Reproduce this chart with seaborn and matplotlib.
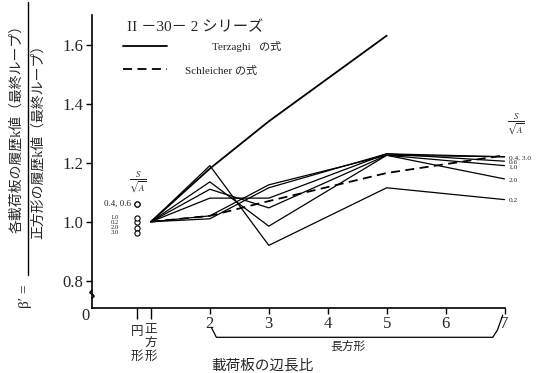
import numpy as np
import pandas as pd
import matplotlib
matplotlib.use("Agg")
import matplotlib.pyplot as plt
import seaborn as sns
from matplotlib.lines import Line2D
from matplotlib.transforms import blended_transform_factory

sns.set_theme(style="white")
plt.rcParams['font.family'] = ['Liberation Serif', 'Noto Sans CJK JP', 'DejaVu Sans']
plt.rcParams['mathtext.fontset'] = 'stix'

# Side ratio of the loading plate (1 = square, 2..7 = rectangles)
side_ratio = [1, 2, 3, 5, 7]
series_labels = ["0.2", "0.4", "0.6", "1.0", "2.0", "3.0"]
beta_02 = [1.00, 1.19, 0.92, 1.115, 1.075]
beta_04 = [1.00, 1.01, 1.115, 1.23, 1.22]
beta_06 = [1.00, 1.08, 1.08, 1.23, 1.205]
beta_10 = [1.00, 1.11, 1.047, 1.225, 1.19]
beta_20 = [1.00, 1.135, 0.985, 1.225, 1.145]
beta_30 = [1.00, 1.02, 1.125, 1.225, 1.22]

# Theoretical curves
terzaghi_ratio = [1, 2, 3, 5]
terzaghi_beta = [1.00, 1.18, 1.34, 1.63]
schleicher_ratio = [1, 2, 3, 5, 7]
schleicher_beta = [1.00, 1.02, 1.07, 1.165, 1.225]

# Circular plate results (same S/sqrt(A) order as series_labels)
circle_ratio = 0.76
circle_beta = [0.998, 1.061, 1.061, 1.013, 0.98, 0.963]

# Tick labels
y_ticks = [0.8, 1.0, 1.2, 1.4, 1.6]
x_ticks = [2, 3, 4, 5, 6, 7]

W, H = 542, 373
fig = plt.figure(figsize=(W / 100, H / 100), dpi=100)
ax = fig.add_axes([92 / W, 1 - 308 / H, (534 - 92) / W, (308 - 15) / H])
ax.set_xlim(0, 7.5)
ax.set_ylim(0.708, 1.70)

rect = pd.DataFrame({
    "ratio": side_ratio * 6,
    "beta": beta_02 + beta_04 + beta_06 + beta_10 + beta_20 + beta_30,
    "s": np.repeat(series_labels, len(side_ratio)),
})
sns.lineplot(data=rect, x="ratio", y="beta", units="s", estimator=None,
             color="black", lw=0.9, ax=ax)
sns.lineplot(x=terzaghi_ratio, y=terzaghi_beta, color="black", lw=1.3, ax=ax)
sns.lineplot(x=schleicher_ratio, y=schleicher_beta, color="black", lw=1.3,
             dashes=False, ax=ax, linestyle=(0, (5, 3)))

circ = pd.DataFrame({"ratio": [circle_ratio] * 6, "beta": circle_beta})
sns.scatterplot(data=circ, x="ratio", y="beta", s=14, facecolor="white",
                edgecolor="black", linewidth=0.8, ax=ax, zorder=5)

# Axes styling
for side in ("top", "right"):
    ax.spines[side].set_visible(False)
for side in ("left", "bottom"):
    ax.spines[side].set_color("black")
    ax.spines[side].set_linewidth(1.2)
ax.spines["bottom"].set_bounds(0, 7)
ax.set_yticks(y_ticks)
ax.set_yticklabels([f"{v:.1f}" for v in y_ticks], fontsize=12)
ax.set_xticks(x_ticks)
ax.set_xticklabels([str(v) for v in x_ticks], fontsize=12)
ax.set_xticks([circle_ratio, 1], minor=True)
ax.tick_params(axis="both", which="major", direction="out", length=4,
               width=1, color="black", pad=2, left=True, bottom=True)
ax.tick_params(axis="x", which="minor", direction="out", length=8,
               width=1, color="black", bottom=True)
ax.set_xlabel("")
ax.set_ylabel("")

# Origin and axis break
ax.annotate("0", xy=(0, 0.708), xytext=(-5, -6), textcoords="offset points",
            ha="center", va="center", fontsize=12, annotation_clip=False)
t = np.linspace(0, 1, 30)
ax.plot(0.035 * np.sin(2 * np.pi * t), 0.742 + 0.025 * t, color="black",
        lw=1.0, clip_on=False, zorder=6)

# Labels under the circle / square ticks
trans = blended_transform_factory(ax.transData, fig.transFigure)
ax.text(circle_ratio, 1 - 332 / H, "円", transform=trans, ha="center",
        va="center", fontsize=9)
ax.text(circle_ratio, 1 - 357 / H, "形", transform=trans, ha="center",
        va="center", fontsize=9)
for ch, yy in zip("正方形", (330, 343, 357)):
    ax.text(1, 1 - yy / H, ch, transform=trans, ha="center", va="center",
            fontsize=9)

# Bracket for the rectangle range
bt = blended_transform_factory(ax.transData, ax.transAxes)
ax.plot([2.03, 2.11, 6.80, 6.88, 6.97], [-0.068, -0.10, -0.10, -0.075, -0.024],
        color="black", lw=0.9, transform=bt, clip_on=False)
ax.text(4.35, -0.133, "長方形", transform=bt, ha="center", va="center",
        fontsize=8.5)
fig.text(262 / W, 1 - 366 / H, "載荷板の辺長比", ha="center", va="center",
         fontsize=10.5)

# S/sqrt(A) labels beside the circular plate
ax.text(circle_ratio + 0.02, 1.135, r"$\frac{S}{\sqrt{A}}$", ha="center",
        va="center", fontsize=9)
ax.annotate("0.4, 0.6", xy=(circle_ratio, circle_beta[1]), xytext=(-4, 0),
            textcoords="offset points", ha="right", va="center", fontsize=6.5)
for i in (3, 0, 4, 5):
    ax.annotate(series_labels[i], xy=(circle_ratio, circle_beta[i]),
                xytext=(-13, 0), textcoords="offset points", ha="right",
                va="center", fontsize=4.8)

# S/sqrt(A) labels at the right end
ends = {"0.4, 3.0": beta_04[-1], "0.6": beta_06[-1], "1.0": beta_10[-1],
        "2.0": beta_20[-1], "0.2": beta_02[-1]}
for lab, v in ends.items():
    ax.annotate(lab, xy=(7, v), xytext=(3, -1), textcoords="offset points",
                ha="left", va="center", fontsize=5.3, annotation_clip=False)
ax.text(7.2, 1.33, r"$\frac{S}{\sqrt{A}}$", ha="center", va="center",
        fontsize=9)

# Legend
fig.text(127 / W, 1 - 27 / H, "II －30－ 2 シリーズ", ha="left", va="center",
         fontsize=11)
fig.add_artist(Line2D([123 / W, 167 / W], [1 - 46 / H] * 2, color="black", lw=1.3))
fig.add_artist(Line2D([123 / W, 167 / W], [1 - 69 / H] * 2, color="black", lw=1.3,
                      linestyle=(0, (5, 3))))
fig.text(212 / W, 1 - 46 / H, "Terzaghi   の式", ha="left", va="center",
         fontsize=8)
fig.text(185 / W, 1 - 71 / H, "Schleicher の式", ha="left", va="center",
         fontsize=8)

# Y-axis label as a fraction
fig.text(17 / W, 1 - 125 / H, "各載荷板の履歴k値（最終ループ）", rotation=90,
         ha="center", va="center", fontsize=10)
fig.text(38 / W, 1 - 138 / H, "正方形の履歴k値（最終ループ）", rotation=90,
         ha="center", va="center", fontsize=10)
fig.add_artist(Line2D([28 / W] * 2, [1 - 2 / H, 1 - 275 / H], color="black", lw=1.0))
fig.text(26 / W, 1 - 296 / H, "β′ =", rotation=90, ha="center", va="center",
         fontsize=11)

fig.savefig("out.png", dpi=100, facecolor="white")
